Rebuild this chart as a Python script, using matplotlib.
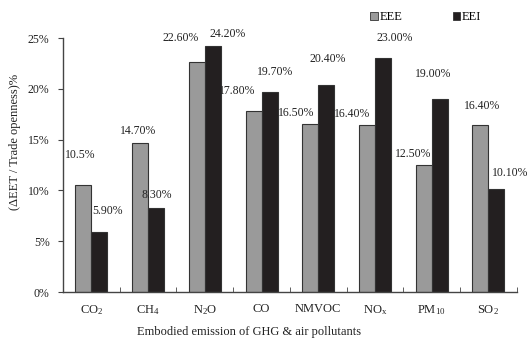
import numpy as np
import matplotlib as mpl
mpl.use('Agg')
import matplotlib.pyplot as plt
from matplotlib.patches import Patch

plt.rcParams['font.family'] = ['Liberation Serif', 'DejaVu Serif']
plt.rcParams['mathtext.fontset'] = 'custom'
plt.rcParams['mathtext.rm'] = 'Liberation Serif'
plt.rcParams['mathtext.it'] = 'Liberation Serif:italic'

# data
pollutants = [r'CO$_2$', r'CH$_4$', r'N$_2$O', 'CO', 'NMVOC',
              r'NO$_\mathrm{x}$', r'PM$_{10}$', r'SO$_2$']
eee = [10.5, 14.7, 22.6, 17.8, 16.5, 16.4, 12.5, 16.4]
eei = [5.9, 8.3, 24.2, 19.7, 20.4, 23.0, 19.0, 10.1]
eee_labels = ['10.5%', '14.70%', '22.60%', '17.80%', '16.50%', '16.40%', '12.50%', '16.40%']
eei_labels = ['5.90%', '8.30%', '24.20%', '19.70%', '20.40%', '23.00%', '19.00%', '10.10%']

# where the value labels sit (offset from category centre, height)
eee_lab_dx = [-0.20, -0.18, -0.42, -0.43, -0.39, -0.41, -0.33, -0.12]
eee_lab_y = [13.5, 15.9, 25.0, 19.8, 17.6, 17.5, 13.6, 18.3]
eei_lab_dx = [0.29, 0.16, 0.41, 0.24, 0.17, 0.35, 0.02, 0.38]
eei_lab_y = [8.0, 9.6, 25.4, 21.7, 22.9, 25.0, 21.5, 11.7]

gray = '#9a9a9a'
black = '#231f20'
edge = '#333333'

fig = plt.figure(figsize=(5.29, 3.40), dpi=100)
ax = fig.add_axes([0.119, 0.141, 0.858, 0.747])

x = np.arange(len(pollutants))
w = 0.282
ax.bar(x - w / 2, eee, w, color=gray, edgecolor=edge, linewidth=0.8)
ax.bar(x + w / 2, eei, w, color=black, edgecolor=edge, linewidth=0.8)

for i in range(len(x)):
    ax.text(x[i] + eee_lab_dx[i], eee_lab_y[i], eee_labels[i], ha='center',
            va='center', fontsize=8.5, color='#222222')
    ax.text(x[i] + eei_lab_dx[i], eei_lab_y[i], eei_labels[i], ha='center',
            va='center', fontsize=8.5, color='#222222')

ax.set_xlim(-0.5, len(x) - 0.5)
ax.set_ylim(0, 25)
ax.set_yticks(np.arange(0, 26, 5))
ax.set_yticklabels(['%d%%' % v for v in range(0, 26, 5)], fontsize=8.5)
ax.set_xticks(x)
ax.set_xticklabels(pollutants, fontsize=9)
ax.set_xticks(np.arange(-0.5, len(x), 1), minor=True)
ax.tick_params(axis='x', which='major', length=0, pad=8, colors='#222222')
ax.tick_params(axis='x', which='minor', direction='in', length=3.5, color='#444444')
ax.tick_params(axis='y', direction='out', length=3.6, pad=6, color='#444444',
               labelcolor='#222222')

for s in ['top', 'right']:
    ax.spines[s].set_visible(False)
for s in ['left', 'bottom']:
    ax.spines[s].set_color('#444444')
    ax.spines[s].set_linewidth(1.0)

ax.set_xlabel('Embodied emission of GHG & air pollutants', fontsize=9,
              color='#222222')
ax.xaxis.set_label_coords(0.41, -0.135)
ax.set_ylabel('(\u0394EET / Trade openness)%', fontsize=9, color='#222222')
ax.yaxis.set_label_coords(-0.092, 0.59)

handles = [Patch(facecolor=gray, edgecolor=edge, linewidth=0.6, label='EEE'),
           Patch(facecolor=black, edgecolor=edge, linewidth=0.6, label='EEI')]
fig.legend(handles=handles, loc='center left', bbox_to_anchor=(0.679, 0.95),
           ncol=2, frameon=False, fontsize=9, handlelength=0.6,
           handleheight=0.6, handletextpad=0.15, columnspacing=4.0)

fig.savefig('out.png', dpi=100)
